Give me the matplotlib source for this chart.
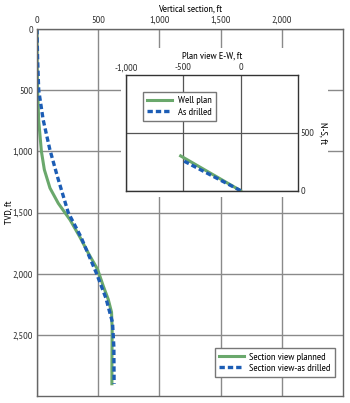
import matplotlib.pyplot as plt
from matplotlib.patches import Rectangle
from matplotlib.ticker import FuncFormatter

plt.rcParams['font.family'] = ['PT Sans Narrow', 'Roboto Condensed', 'DejaVu Sans']
plt.rcParams['font.size'] = 7.5

# section view: true vertical depth vs vertical section (ft)
tvd_plan = [0, 250, 500, 750, 1000, 1150, 1300, 1425, 1560, 1700, 1830, 1965, 2100, 2210, 2315, 2455, 2600, 2750, 2900]
vs_plan = [0, 1, 5, 14, 36, 60, 106, 174, 270, 350, 418, 495, 541, 582, 609, 614, 613, 612, 612]
tvd_drill = [0, 250, 500, 740, 985, 1200, 1500, 1700, 2000, 2200, 2400, 2600, 2900]
vs_drill = [0, 5, 14, 50, 105, 165, 255, 359, 487, 563, 617, 628, 630]

# plan view: E-W vs N-S (ft)
ew_plan = [0, -523]
ns_plan = [0, 300]
ew_drill = [0, -495]
ns_drill = [0, 256]

green = '#6aa86c'
blue = '#1c5db5'
fmt = FuncFormatter(lambda v, p: f'{v:,.0f}')

fig = plt.figure(figsize=(3.5, 4.03), dpi=100)
ax = fig.add_axes([0.1057, 0.0174, 0.8743, 0.9106])
ax.plot(vs_plan, tvd_plan, color=green, lw=2.2, label='Section view planned')
ax.plot(vs_drill, tvd_drill, color=blue, lw=2.4, ls=(0, (1.6, 0.9)), label='Section view-as drilled')
ax.set_xlim(0, 2500)
ax.set_ylim(3000, 0)
ax.set_xticks([0, 500, 1000, 1500, 2000])
ax.set_yticks([0, 500, 1000, 1500, 2000, 2500])
ax.xaxis.set_major_formatter(fmt)
ax.yaxis.set_major_formatter(fmt)
ax.xaxis.tick_top()
ax.xaxis.set_label_position('top')
ax.set_xlabel('Vertical section, ft', labelpad=3)
ax.set_ylabel('TVD, ft')
ax.yaxis.set_label_coords(-0.078, 0.5)
ax.tick_params(length=0, pad=3, colors='#333333')
ax.grid(True, color='#8a8a8a', lw=1)
for s in ax.spines.values():
    s.set_color('#666666')
    s.set_linewidth(1)
leg = ax.legend(loc='lower right', bbox_to_anchor=(0.99, 0.037), fancybox=False,
                edgecolor='#777777', framealpha=1, handlelength=2.4, borderpad=0.4,
                labelspacing=0.2, handletextpad=0.5)

# white patch behind the inset
fig.patches.append(Rectangle((0.3457, 0.511), 0.591, 0.37, transform=fig.transFigure,
                             facecolor='white', edgecolor='none', zorder=5))

ins = fig.add_axes([0.36, 0.527, 0.491, 0.287], zorder=6)
ins.plot(ew_plan, ns_plan, color=green, lw=2.2, label='Well plan')
ins.plot(ew_drill, ns_drill, color=blue, lw=2.4, ls=(0, (1.6, 0.9)), label='As drilled')
ins.set_xlim(-1000, 500)
ins.set_ylim(0, 1000)
ins.set_xticks([-1000, -500, 0])
ins.set_yticks([0, 500])
ins.xaxis.set_major_formatter(fmt)
ins.xaxis.tick_top()
ins.xaxis.set_label_position('top')
ins.yaxis.tick_right()
ins.yaxis.set_label_position('right')
ins.set_xlabel('Plan view E-W, ft', labelpad=3)
ins.set_ylabel('N-S, ft', rotation=270, labelpad=9)
ins.tick_params(length=0, pad=2, colors='#333333')
ins.grid(True, color='#555555', lw=0.9)
for s in ins.spines.values():
    s.set_color('#333333')
    s.set_linewidth(1)
ins.legend(loc='upper left', bbox_to_anchor=(0.07, 0.9), fancybox=False,
           edgecolor='#777777', framealpha=1, handlelength=2.4, borderpad=0.4,
           labelspacing=0.2, handletextpad=0.5)

fig.savefig('out.png', dpi=100)
